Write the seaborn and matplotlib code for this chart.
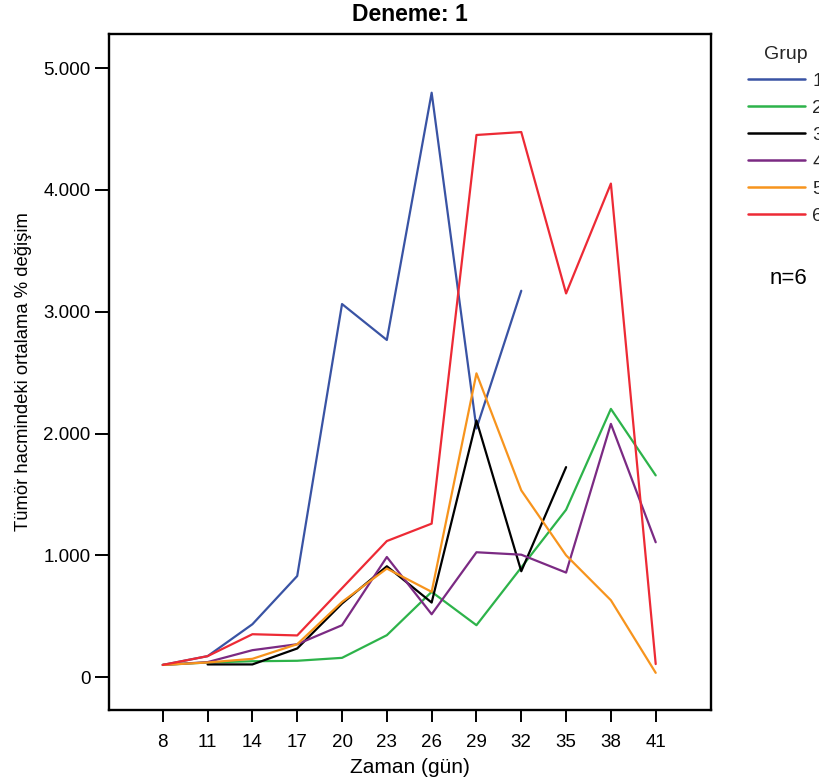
import numpy as np
import pandas as pd
import matplotlib
matplotlib.use("Agg")
import matplotlib.pyplot as plt
import matplotlib.ticker as mticker
import seaborn as sns

# Measurement days
gunler = [8, 11, 14, 17, 20, 23, 26, 29, 32, 35, 38, 41]

# Mean % change in tumour volume per group (None = no measurement)
grup1 = [100, 172, 434, 830, 3063, 2768, 4798, 2041, 3172, None, None, None]
grup2 = [100, 120, 130, 134, 158, 344, 700, 426, 900, 1374, 2202, 1656]
grup3 = [None, 104, 104, 235, 604, 910, 612, 2107, 869, 1724, None, None]
grup4 = [100, 123, 221, 270, 426, 986, 516, 1025, 1005, 858, 2079, 1107]
grup5 = [100, 120, 150, 270, 617, 891, 700, 2494, 1533, 1000, 631, 35]
grup6 = [100, 172, 352, 342, 730, 1117, 1260, 4451, 4475, 3150, 4052, 107]

grup_adlari = ["1", "2", "3", "4", "5", "6"]
renkler = ["#3953a4", "#2db34a", "#000000", "#7b2a83", "#f7941d", "#ed2a35"]

satirlar = []
for ad, seri in zip(grup_adlari, [grup1, grup2, grup3, grup4, grup5, grup6]):
    for g, v in zip(gunler, seri):
        if v is not None:
            satirlar.append({"gun": g, "deger": v, "grup": ad})
df = pd.DataFrame(satirlar)

sns.set_theme(style="white")
plt.rcParams["font.family"] = ["Liberation Sans", "DejaVu Sans"]

fig = plt.figure(figsize=(8.19, 7.82), dpi=100)
ax = fig.add_axes([0.1331, 0.0921, 0.735, 0.8644])

sns.lineplot(data=df, x="gun", y="deger", hue="grup", hue_order=grup_adlari,
             palette=renkler, estimator=None, sort=False, linewidth=1.6,
             ax=ax, legend=False)

ax.set_xlim(4.4, 44.7)
ax.set_ylim(-270, 5280)
ax.set_xticks(gunler)
ax.set_yticks([0, 1000, 2000, 3000, 4000, 5000])
ax.yaxis.set_major_formatter(
    mticker.FuncFormatter(lambda v, p: f"{v:,.0f}".replace(",", ".")))

for s in ax.spines.values():
    s.set_visible(True)
    s.set_color("black")
    s.set_linewidth(1.7)

ax.tick_params(axis="x", direction="out", length=8.5, width=1.4, colors="black",
               labelsize=13.5, pad=8.5, bottom=True)
ax.tick_params(axis="y", direction="out", length=10, width=1.4, colors="black",
               labelsize=13.5, pad=3.5, left=True)

ax.set_xlabel("Zaman (gün)", fontsize=15, color="black", labelpad=5)
ax.set_ylabel("Tümör hacmindeki ortalama % değişim", fontsize=13.3,
              color="black", labelpad=8)
ax.set_title("Deneme: 1", fontsize=16.5, fontweight="bold", color="black",
             pad=9.5)

# Legend placed to the right of the plotting area
tutamaklar = [plt.Line2D([], [], color=c, lw=1.8) for c in renkler]
leg = fig.legend(tutamaklar, grup_adlari, title="Grup", loc="upper left",
                 bbox_to_anchor=(748 / 819, 1 - 46 / 782), frameon=False,
                 fontsize=14, title_fontsize=14, handlelength=2.95,
                 handletextpad=0.36, labelspacing=0.48, borderpad=0,
                 borderaxespad=0)

fig.text(788 / 819, 1 - 278 / 782, "n=6", fontsize=16, ha="center",
         va="center", color="black")

fig.savefig("out.png", dpi=100)
